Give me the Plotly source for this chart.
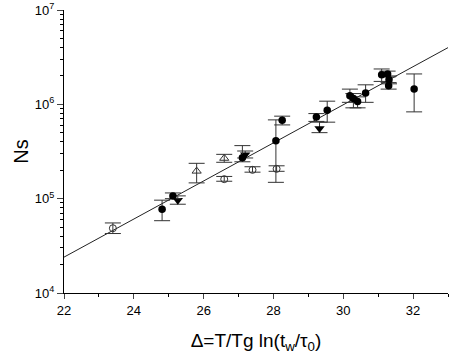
import plotly.graph_objects as go

# Filled circles
fc_x = [24.81, 25.12, 27.11, 28.07, 28.25, 29.23, 29.54, 30.19, 30.29, 30.41, 30.64, 31.10, 31.27, 31.31, 31.30, 32.03]
fc_y = [7.73e4, 1.07e5, 2.72e5, 4.12e5, 6.79e5, 7.36e5, 8.67e5, 1.23e6, 1.15e6, 1.07e6, 1.32e6, 2.06e6, 2.10e6, 1.82e6, 1.57e6, 1.45e6]
fc_hi = [9.64e4, 1.15e5, 3.65e5, 6.84e5, 7.49e5, 7.98e5, 1.08e6, 1.45e6, 1.30e6, 1.20e6, 1.61e6, 2.37e6, 2.25e6, 2.00e6, 1.70e6, 2.10e6]
fc_lo = [5.84e4, 1.00e5, 2.46e5, 1.49e5, 6.05e5, 6.59e5, 6.47e5, 1.05e6, 9.18e5, 9.18e5, 1.05e6, 1.75e6, 1.95e6, 1.65e6, 1.45e6, 8.32e5]

# Open circles
oc_x = [23.40, 26.59, 27.40, 28.09]
oc_y = [4.86e4, 1.61e5, 2.02e5, 2.07e5]
oc_hi = [5.53e4, 1.72e5, 2.18e5, 2.23e5]
oc_lo = [4.27e4, 1.53e5, 1.91e5, 1.95e5]

# Filled down triangles
dt_x = [25.26, 27.19, 29.32]
dt_y = [9.64e4, 2.93e5, 5.53e5]
dt_hi = [1.07e5, 3.20e5, 6.47e5]
dt_lo = [8.73e4, 2.70e5, 5.01e5]

# Open up triangles
ut_x = [25.80, 26.59]
ut_y = [1.96e5, 2.68e5]
ut_hi = [2.37e5, 2.95e5]
ut_lo = [1.47e5, 2.43e5]

# Fit line
fit_x = [22, 33]
fit_y = [2.40e4, 3.99e6]

x_tickvals = [22, 24, 26, 28, 30, 32]
y_tickvals = [1e4, 1e5, 1e6, 1e7]
y_ticktext = ["10<sup>4</sup>", "10<sup>5</sup>", "10<sup>6</sup>", "10<sup>7</sup>"]

def err(y, hi, lo):
    return dict(type="data", symmetric=False,
                array=[h - v for h, v in zip(hi, y)],
                arrayminus=[v - l for v, l in zip(y, lo)],
                color="#333333", thickness=1, width=8)

fig = go.Figure()
fig.add_trace(go.Scatter(x=fit_x, y=fit_y, mode="lines",
                         line=dict(color="#222222", width=1), showlegend=False))
fig.add_trace(go.Scatter(x=oc_x, y=oc_y, mode="markers", error_y=err(oc_y, oc_hi, oc_lo),
                         marker=dict(symbol="circle-open", size=7, color="#333333", line=dict(width=1)),
                         showlegend=False))
fig.add_trace(go.Scatter(x=ut_x, y=ut_y, mode="markers", error_y=err(ut_y, ut_hi, ut_lo),
                         marker=dict(symbol="triangle-up-open", size=8, color="#333333", line=dict(width=1)),
                         showlegend=False))
fig.add_trace(go.Scatter(x=dt_x, y=dt_y, mode="markers", error_y=err(dt_y, dt_hi, dt_lo),
                         marker=dict(symbol="triangle-down", size=9, color="black"),
                         showlegend=False))
fig.add_trace(go.Scatter(x=fc_x, y=fc_y, mode="markers", error_y=err(fc_y, fc_hi, fc_lo),
                         marker=dict(symbol="circle", size=7.5, color="black"),
                         showlegend=False))

fig.update_layout(
    width=449, height=360,
    margin=dict(l=64, r=1, t=10, b=67, autoexpand=False),
    plot_bgcolor="white", paper_bgcolor="white",
    font=dict(family="Liberation Sans, Arial, sans-serif", color="black", size=13),
    xaxis=dict(range=[22, 33], tickvals=x_tickvals, ticks="outside", ticklen=5, automargin=False,
               showline=True, linecolor="black", linewidth=1, showgrid=False, zeroline=False,
               tickfont=dict(size=13),
               minor=dict(dtick=1, tick0=22, ticks="outside", ticklen=3, tickcolor="black", showgrid=False),
               title=dict(text="Δ=T/Tg ln(t<sub>w</sub>/τ<sub>0</sub>)", font=dict(size=19), standoff=17)),
    yaxis=dict(type="log", range=[4, 7], tickvals=y_tickvals, ticktext=y_ticktext, automargin=False,
               ticks="outside", ticklen=6, showline=True, linecolor="black", linewidth=1,
               showgrid=False, zeroline=False, tickfont=dict(size=13),
               minor=dict(dtick="D1", ticks="outside", ticklen=3, tickcolor="black", showgrid=False),
               title=dict(text="Ns", font=dict(size=20), standoff=0)),
)

fig.write_html("out.html", config={"displayModeBar": False},
               post_script="document.body.style.margin='0';document.body.style.padding='0';")
